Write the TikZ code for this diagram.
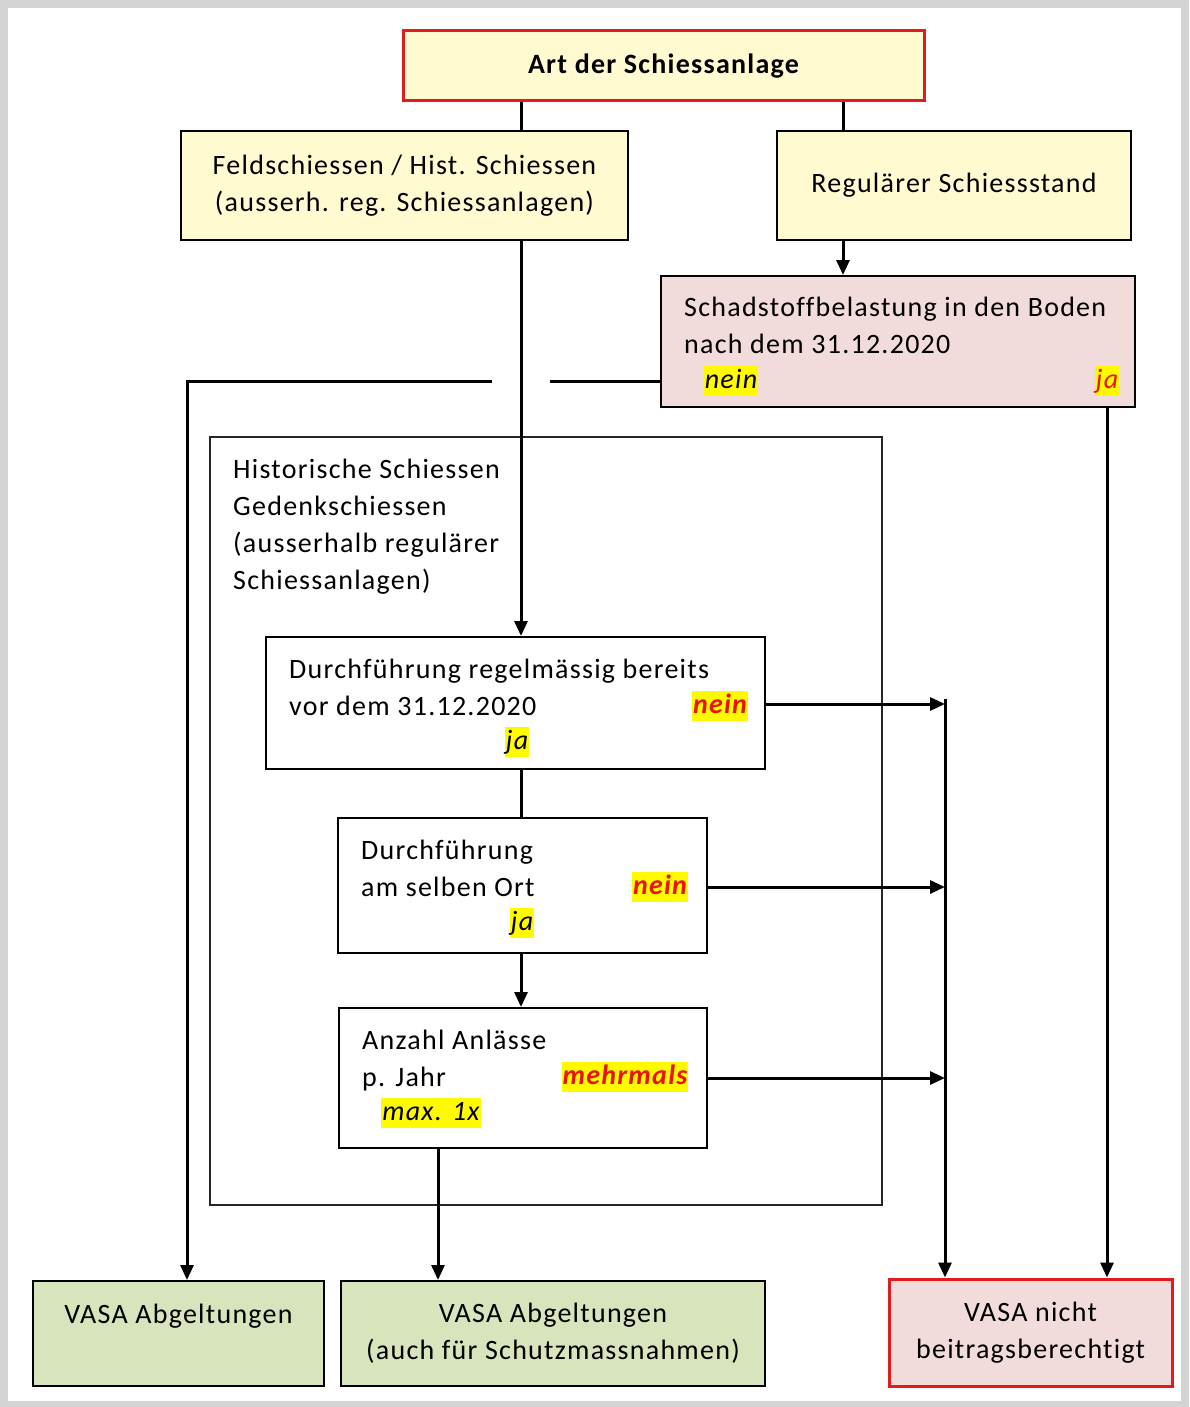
\documentclass[tikz,border=0pt]{standalone}
\usepackage{fontspec}
\setmainfont{Carlito}[LetterSpace=4.5, Ligatures=NoCommon]
\usetikzlibrary{arrows.meta}

\definecolor{bgray}{RGB}{212,212,212}
\definecolor{fillyellow}{RGB}{255,250,207}
\definecolor{fillpink}{RGB}{242,220,219}
\definecolor{fillgreen}{RGB}{216,228,188}
\definecolor{borderred}{RGB}{226,28,28}
\definecolor{markred}{RGB}{232,20,10}
\definecolor{markyellow}{RGB}{255,250,0}

\begin{document}
\begin{tikzpicture}[x=1pt, y=-1pt,
	every node/.style={font=\fontsize{28}{37}\selectfont, inner sep=0pt},
	box/.style={rectangle, draw=black, line width=2pt},
	redbox/.style={rectangle, draw=borderred, line width=3pt},
	txt/.style={anchor=north west, align=left},
	yes/.style={fill=markyellow, inner xsep=1pt, text height=22pt, text depth=8pt, font=\fontsize{28}{37}\selectfont\itshape},
	no/.style={yes, text=markred, font=\fontsize{28}{37}\selectfont\itshape\bfseries},
	conn/.style={draw=black, line width=3pt},
	arr/.style={conn, -{Triangle[length=15pt,width=13pt]}}]
	
	\useasboundingbox (0,0) rectangle (1189,1407);
	\fill[bgray] (0,0) rectangle (1189,1407);
	\fill[white] (8,8) rectangle (1181,1401);
	
	% Kopf
	\node[redbox, fill=fillyellow, minimum width=521, minimum height=70, font=\fontsize{28}{37}\selectfont\bfseries] (art) at (663.5,66) {Art der Schiessanlage};
	\node[box, fill=fillyellow, minimum width=447, minimum height=109, align=center] (feld) at (404.5,185.5) {Feldschiessen / Hist. Schiessen\\(ausserh. reg. Schiessanlagen)};
	\node[box, fill=fillyellow, minimum width=354, minimum height=109] (reg) at (954,185.5) {Regulärer Schiessstand};
	
	\node[box, fill=fillpink, minimum width=474, minimum height=131] (schad) at (898,341.5) {};
	\node[txt] (schad-t) at (684,290) {\strut Schadstoffbelastung in den Boden\\nach dem 31.12.2020};
	\node[yes] (schad-nein) at (731,381) {nein};
	\node[yes, text=markred] (schad-ja) at (1107,381) {ja};
	
	% Rahmen hist. Schiessen
	\node[rectangle, draw=black!85, line width=1.5pt, fill=white, minimum width=672, minimum height=768] (hist) at (546,821) {};
	\node[txt] (hist-t) at (233,452) {\strut Historische Schiessen\\Gedenkschiessen\\(ausserhalb regulärer\\Schiessanlagen)};
	
	\node[box, fill=white, minimum width=499, minimum height=132] (d1) at (515.5,703) {};
	\node[txt] (d1-t) at (289,652) {\strut Durchführung regelmässig bereits\\vor dem 31.12.2020};
	\node[no] (d1-nein) at (720,706) {nein};
	\node[yes] (d1-ja) at (517,742) {ja};
	
	\node[box, fill=white, minimum width=369, minimum height=135] (d2) at (522.5,885.5) {};
	\node[txt] (d2-t) at (361,833) {\strut Durchführung\\am selben Ort};
	\node[no] (d2-nein) at (660,887) {nein};
	\node[yes] (d2-ja) at (522,923) {ja};
	
	\node[box, fill=white, minimum width=368, minimum height=140] (anz) at (523,1078) {};
	\node[txt] (anz-t) at (362,1023) {\strut Anzahl Anlässe\\p. Jahr};
	\node[no] (anz-mehr) at (625,1077) {mehrmals};
	\node[yes] (anz-max) at (431,1113) {max. 1x};
	
	% Ergebnisse
	\node[box, fill=fillgreen, minimum width=291, minimum height=105, align=center] (vasa1) at (178.5,1333.5) {VASA Abgeltungen\\[-8pt]\strut};
	\node[box, fill=fillgreen, minimum width=424, minimum height=105, align=center] (vasa2) at (553,1333.5) {VASA Abgeltungen\\(auch für Schutzmassnahmen)};
	\node[redbox, fill=fillpink, minimum width=283, minimum height=107, align=center] (nicht) at (1030.5,1332.5) {VASA nicht\\beitragsberechtigt};
	
	% Hilfspunkte fuer Linien
	\coordinate (mid) at (521,0);
	\coordinate (rx) at (843,0);
	\coordinate (lx) at (187,0);
	\coordinate (ax) at (438,0);
	\coordinate (jx) at (1107,0);
	\coordinate (cx) at (945,0);
	\coordinate (gapl) at (492,381);
	\coordinate (gapr) at (550,381);
	
	\draw[conn] (art.south -| mid) -- (feld.north -| mid);
	\draw[conn] (art.south -| rx) -- (reg.north -| rx);
	\draw[arr] (reg.south -| rx) -- (schad.north -| rx);
	\draw[arr] (feld.south -| mid) -- (d1.north -| mid);
	\draw[conn] (schad.west |- gapr) -- (gapr);
	\draw[arr] (gapl) -| (vasa1.north -| lx);
	\draw[arr] (schad.south -| jx) -- (nicht.north -| jx);
	\draw[conn] (d1.south -| mid) -- (d2.north -| mid);
	\draw[arr] (d2.south -| mid) -- (anz.north -| mid);
	\draw[arr] (anz.south -| ax) -- (vasa2.north -| ax);
	
	\draw[arr] (d1.east |- 0,704) -- (cx |- 0,704);
	\draw[arr] (d2.east |- d2-nein) -- (cx |- d2-nein);
	\draw[arr] (anz.east |- 0,1078) -- (cx |- 0,1078);
	\draw[arr] (cx |- 0,699) -- (nicht.north -| cx);
\end{tikzpicture}
\end{document}
